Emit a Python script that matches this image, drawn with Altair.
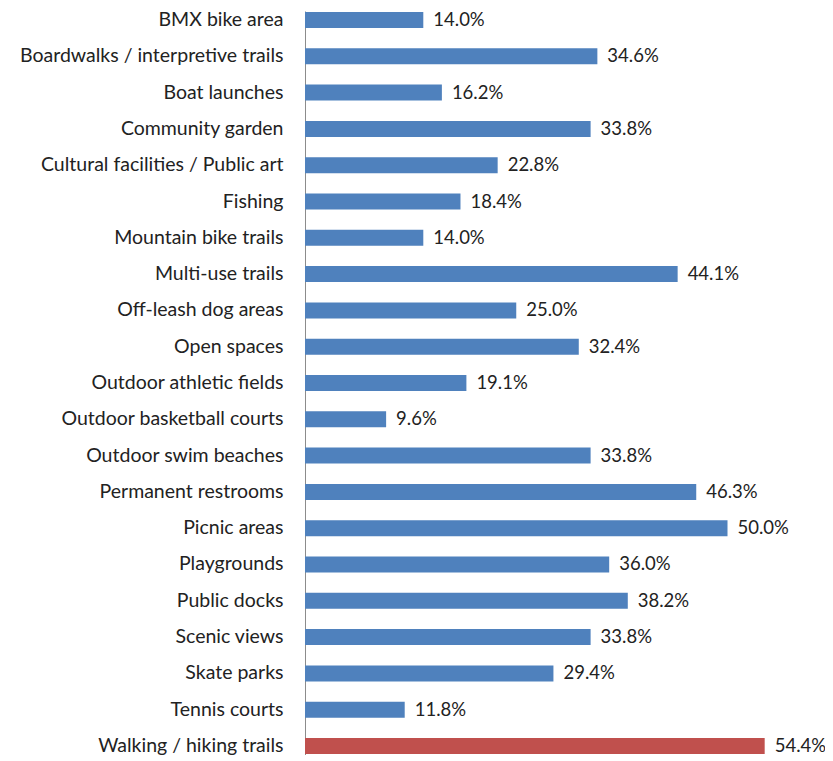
import altair as alt
import pandas as pd

categories = [
    "BMX bike area", "Boardwalks / interpretive trails", "Boat launches",
    "Community garden", "Cultural facilities / Public art", "Fishing",
    "Mountain bike trails", "Multi-use trails", "Off-leash dog areas",
    "Open spaces", "Outdoor athletic fields", "Outdoor basketball courts",
    "Outdoor swim beaches", "Permanent restrooms", "Picnic areas",
    "Playgrounds", "Public docks", "Scenic views", "Skate parks",
    "Tennis courts", "Walking / hiking trails",
]
values = [14.0, 34.6, 16.2, 33.8, 22.8, 18.4, 14.0, 44.1, 25.0, 32.4, 19.1,
          9.6, 33.8, 46.3, 50.0, 36.0, 38.2, 33.8, 29.4, 11.8, 54.4]
highlight = ["Walking / hiking trails"]

df = pd.DataFrame({"cat": categories, "val": values})
df["grp"] = ["hi" if c in highlight else "base" for c in categories]
df["label"] = [f"{v:.1f}%" for v in values]

FONT = "Lato"

y_enc = alt.Y("cat:N", sort=categories,
              scale=alt.Scale(paddingInner=0.56, paddingOuter=0.028),
              axis=alt.Axis(title=None, ticks=False, domainColor="#8c8c8c",
                            domainWidth=1, labelFont=FONT, labelFontSize=19.5,
                            labelColor="#222222", labelPadding=22,
                            labelLimit=400))
x_enc = alt.X("val:Q", scale=alt.Scale(domain=[0, 60]), axis=None)

bars = alt.Chart(df).mark_bar().encode(
    y=y_enc, x=x_enc,
    color=alt.Color("grp:N", scale=alt.Scale(domain=["base", "hi"],
                                             range=["#4F81BD", "#C0504D"]),
                    legend=None),
)
text = alt.Chart(df).mark_text(align="left", baseline="middle", dx=10,
                               font=FONT, fontSize=18.5, color="#222222").encode(
    y=alt.Y("cat:N", sort=categories), x="val:Q", text="label:N")

chart = (bars + text).properties(
    width=507, height=744,
    background="white",
    autosize=alt.AutoSizeParams(type="none"),
    padding={"left": 297, "top": 3, "right": 13, "bottom": 0},
).configure_view(stroke="transparent", strokeWidth=0)

chart.save("out.html", embed_options={"renderer": "svg", "actions": False})
